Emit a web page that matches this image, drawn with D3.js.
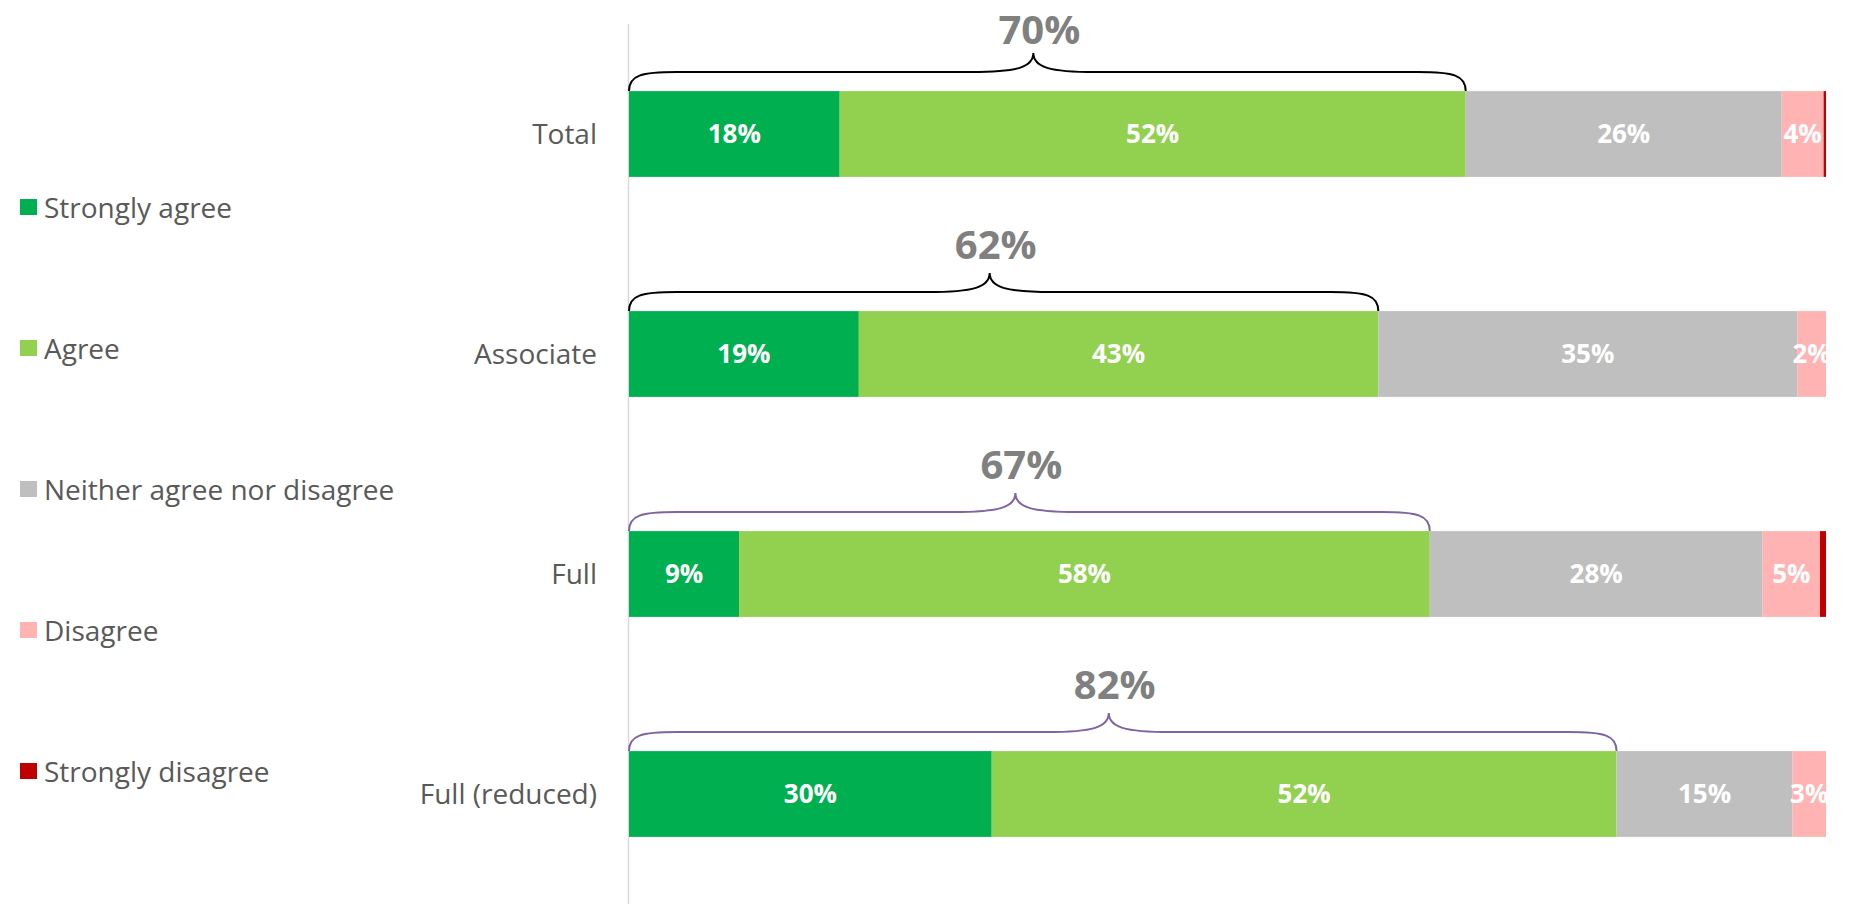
<!DOCTYPE html>
<html><head><meta charset="utf-8">
<script src="https://cdn.jsdelivr.net/npm/d3@7"></script>
<style>body{margin:0;background:#fff;}svg{display:block;}</style>
</head><body>
<svg id="chart" width="1865" height="909"></svg>
<script>
const categories = ["Total", "Associate", "Full", "Full (reduced)"];
const seriesNames = ["Strongly agree", "Agree", "Neither agree nor disagree", "Disagree", "Strongly disagree"];
const stronglyAgree = [17.6, 19.2, 9.2, 30.3];
const agree = [52.3, 43.4, 57.7, 52.2];
const neither = [26.4, 35.0, 27.8, 14.7];
const disagree = [3.5, 2.4, 4.8, 2.8];
const stronglyDisagree = [0.2, 0, 0.5, 0];
const netAgree = [70, 62, 67, 82];
const braceColors = ["#000000", "#000000", "#8064A2", "#8064A2"];
const colors = ["#00B050", "#92D050", "#BFBFBF", "#FFB3B3", "#C00000"];

const series = [stronglyAgree, agree, neither, disagree, stronglyDisagree];
const rows = categories.map((c, i) => {
  const r = {cat: c};
  seriesNames.forEach((s, j) => r[s] = series[j][i]);
  return r;
});
const stack = d3.stack().keys(seriesNames)(rows);

const svg = d3.select("#chart");
const plotL = 629, plotR = 1826, plotT = 24, plotB = 904;
const x = d3.scaleLinear().domain([0, 100]).range([plotL, plotR]);
const y = d3.scaleBand().domain(categories).range([plotT, plotB]).paddingInner(0.61).paddingOuter(0.305);

svg.append("defs").append("clipPath").attr("id", "plotclip")
  .append("rect").attr("x", plotL).attr("y", 0).attr("width", plotR - plotL + 1).attr("height", 909);

// axis line
svg.append("line").attr("x1", plotL - 0.5).attr("x2", plotL - 0.5).attr("y1", plotT).attr("y2", plotB)
  .attr("stroke", "#D9D9D9").attr("stroke-width", 1.5);

// bars
const g = svg.append("g");
stack.forEach((layer, j) => {
  g.selectAll(null).data(layer).enter().append("rect")
    .attr("x", d => x(d[0]))
    .attr("y", d => y(d.data.cat))
    .attr("width", d => Math.max(0, x(d[1]) - x(d[0])))
    .attr("height", y.bandwidth())
    .attr("fill", colors[j]);
});

// data labels
const lg = svg.append("g").attr("clip-path", "url(#plotclip)");
stack.forEach((layer, j) => {
  if (j === 4) return;
  lg.selectAll(null).data(layer).enter().append("text")
    .attr("x", d => (x(d[0]) + x(d[1])) / 2)
    .attr("y", d => y(d.data.cat) + y.bandwidth() / 2)
    .attr("dy", "0.36em")
    .attr("text-anchor", "middle")
    .attr("font-family", "'Open Sans', sans-serif")
    .attr("font-weight", "bold")
    .attr("font-size", 26)
    .attr("fill", "#FFFFFF")
    .text(d => Math.round(d[1] - d[0]) + "%");
});

// category labels
svg.append("g").selectAll("text").data(categories).enter().append("text")
  .attr("x", 597)
  .attr("y", d => y(d) + y.bandwidth() / 2)
  .attr("dy", "0.36em")
  .attr("text-anchor", "end")
  .attr("font-family", "'Open Sans', sans-serif")
  .attr("font-size", 28)
  .attr("fill", "#595959")
  .text(d => d);

// braces
categories.forEach((c, i) => {
  const x0 = x(0), x1 = x(stronglyAgree[i] + agree[i]);
  const m = (x0 + x1) / 2 - 14;
  const yB = y(c), yH = yB - 19, yT = yB - 38;
  const p = `M${x0},${yB} C${x0},${yH + 3} ${x0 + 12},${yH} ${x0 + 48},${yH} L${m - 62},${yH} C${m - 16},${yH} ${m},${yH - 5} ${m},${yT} C${m},${yH - 5} ${m + 16},${yH} ${m + 62},${yH} L${x1 - 48},${yH} C${x1 - 12},${yH} ${x1},${yH + 3} ${x1},${yB}`;
  svg.append("path").attr("d", p).attr("fill", "none").attr("stroke", braceColors[i]).attr("stroke-width", 2);
  svg.append("text")
    .attr("x", m + 6).attr("y", Math.max(yB - 67, 30)).attr("dy", "0.36em")
    .attr("text-anchor", "middle")
    .attr("font-family", "'Open Sans', sans-serif")
    .attr("font-weight", "bold")
    .attr("font-size", 40)
    .attr("fill", "#808080")
    .text(netAgree[i] + "%");
});

// legend
const leg = svg.append("g").selectAll("g").data(seriesNames).enter().append("g")
  .attr("transform", (d, i) => `translate(20, ${208 + i * 141})`);
leg.append("rect").attr("x", 0).attr("y", -9).attr("width", 17).attr("height", 16).attr("fill", (d, i) => colors[i]);
leg.append("text").attr("x", 24).attr("y", 0).attr("dy", "0.36em")
  .attr("font-family", "'Open Sans', sans-serif").attr("font-size", 28).attr("fill", "#595959")
  .text(d => d);
</script>
</body></html>
